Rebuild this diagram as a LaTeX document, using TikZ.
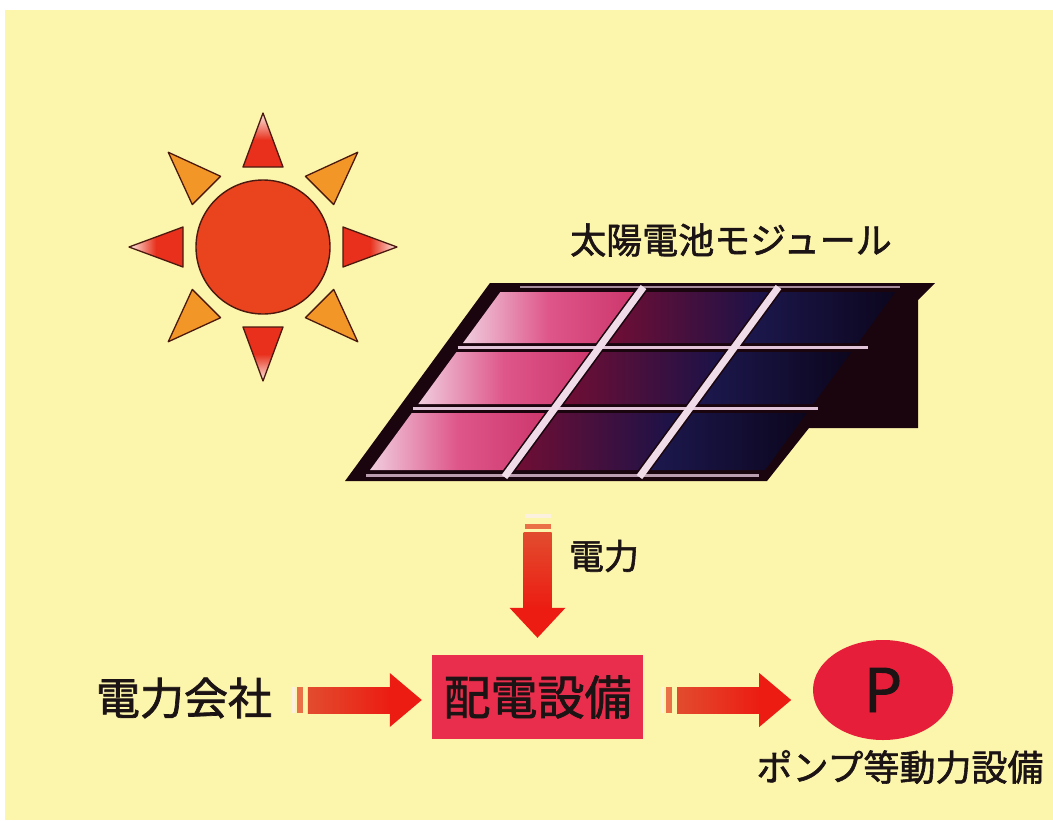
\documentclass[tikz,border=0pt]{standalone}
\usepackage{fontspec}
\setmainfont{Noto Sans CJK JP}
\newfontfamily\heavy{Noto Sans CJK JP}[FakeBold=1.6]
\usetikzlibrary{calc,shapes.geometric}

\definecolor{paper}{RGB}{252,245,172}
\definecolor{ink}{RGB}{28,20,20}
\definecolor{sunfill}{RGB}{233,68,30}
\definecolor{sunline}{RGB}{75,25,15}
\definecolor{rayorange}{RGB}{243,150,40}
\definecolor{rayred}{RGB}{232,48,28}
\definecolor{raytip}{RGB}{252,238,230}
\definecolor{panelframe}{RGB}{26,5,14}
\definecolor{gridlight}{RGB}{226,196,216}
\definecolor{gridwhite}{RGB}{240,220,232}
\definecolor{pinkA}{RGB}{240,205,222}
\definecolor{pinkB}{RGB}{222,86,138}
\definecolor{pinkC}{RGB}{205,55,108}
\definecolor{plumA}{RGB}{112,14,52}
\definecolor{plumB}{RGB}{24,18,72}
\definecolor{navyA}{RGB}{28,24,78}
\definecolor{navyB}{RGB}{12,6,30}
\definecolor{boxred}{RGB}{232,46,76}
\definecolor{pumpred}{RGB}{230,30,58}
\definecolor{shaftA}{RGB}{226,76,46}
\definecolor{shaftB}{RGB}{236,28,18}
\definecolor{stubcol}{RGB}{234,112,72}
\definecolor{stripcol}{RGB}{252,240,222}

% x position on a slanted panel edge: base x at y=481, shifted with height
\newcommand\slx[2]{{#1+(481-#2)*0.732}}
% one solar cell: left/right base x, top y, bottom y, shading style
\newcommand\pvcell[5]{%
  \shade[#5] (\slx{#1}{#4},#4) -- (\slx{#2}{#4},#4) -- (\slx{#2}{#3},#3) -- (\slx{#1}{#3},#3) -- cycle;}
% horizontal block arrow starting at a named tail coordinate
\newcommand\hflow[1]{%
  \fill[stripcol] ($(#1)+(0,-13)$) rectangle ($(#1)+(3,13)$);
  \fill[stubcol] ($(#1)+(5,-13)$) rectangle ($(#1)+(11,13)$);
  \shade[left color=shaftA,right color=shaftB] ($(#1)+(16,-13)$) rectangle ($(#1)+(99,13)$);
  \fill[shaftB] ($(#1)+(98,-27)$) -- ($(#1)+(130,0)$) -- ($(#1)+(98,27)$) -- cycle;}
% vertical block arrow pointing down from a named tail coordinate
\newcommand\vflow[1]{%
  \fill[stripcol] ($(#1)+(-13,0)$) rectangle ($(#1)+(13,4)$);
  \fill[stubcol] ($(#1)+(-13,10)$) rectangle ($(#1)+(13,15)$);
  \shade[top color=shaftA,bottom color=shaftB] ($(#1)+(-14,19)$) rectangle ($(#1)+(14,95)$);
  \fill[shaftB] ($(#1)+(-28,94)$) -- ($(#1)+(0,124)$) -- ($(#1)+(28,94)$) -- cycle;}

\begin{document}
\begin{tikzpicture}[x=1pt,y=-1pt,
  txt/.style={text=ink,inner sep=0pt},
  ray/.style={draw=sunline,line width=1.3pt,line join=round},
  rowgap/.style={draw=gridlight,line width=3.5pt},
  colgap/.style={draw=gridwhite,line width=7pt}]
\useasboundingbox (0,0) rectangle (1053,820);
\fill[white] (0,0) rectangle (1053,820);
\fill[paper] (5,10) rectangle (1053,820);

% ---- sun ----
\coordinate (sun) at (263,247);
\foreach \a in {45,135,225,315}
  \filldraw[ray,fill=rayorange] ($(sun)+(\a:80)+(\a+90:20)$) -- ($(sun)+(\a:134)$) -- ($(sun)+(\a:80)+(\a-90:20)$) -- cycle;
\foreach \a in {0,90,180,270}{
  \pgfmathsetmacro\sh{270-\a}
  \shadedraw[ray,top color=raytip,bottom color=rayred,middle color=rayred,shading angle=\sh]
    ($(sun)+(\a:80)+(\a+90:20)$) -- ($(sun)+(\a:134)$) -- ($(sun)+(\a:80)+(\a-90:20)$) -- cycle;}
\node[circle,draw=sunline,line width=1.4pt,fill=sunfill,minimum size=134pt,inner sep=0pt] (sunball) at (sun) {};

% ---- solar module ----
\fill[panelframe] (\slx{345}{283},283) -- (935,283) -- (918,300) -- (918,428) -- (809,428) -- (767,481) -- (345,481) -- cycle;
\draw[gridlight,line width=2.5pt,opacity=.7] (520,287) -- (900,287);
\draw[rowgap] (\slx{360}{347.5},347.5) -- (\slx{770}{347.5},347.5);
\draw[rowgap] (\slx{360}{408.5},408.5) -- (\slx{765}{408.5},408.5);
\draw[gridlight,line width=3pt,opacity=.8] (\slx{362}{475},475) -- (\slx{755}{475},475);
\draw[colgap] (\slx{501.5}{477},477) -- (\slx{501.5}{287},287);
\draw[colgap] (\slx{636.5}{477},477) -- (\slx{636.5}{287},287);
\foreach \yt/\yb in {292/343,352/404,413/470}{
  \pvcell{362}{495}{\yt}{\yb}{left color=pinkA,right color=pinkC,middle color=pinkB}
  \pvcell{508}{630}{\yt}{\yb}{left color=plumA,right color=plumB}
  \pvcell{643}{757}{\yt}{\yb}{left color=navyA,right color=navyB}
}
\node[txt,font=\heavy\fontsize{36}{40}\selectfont] (modlabel) at (731,240) {太陽電池モジュール};

% ---- power flow ----
\node[fill=boxred,minimum width=211pt,minimum height=84pt,inner sep=0pt,text=ink,
      font=\heavy\fontsize{47}{50}\selectfont] (dist) at (537.5,697) {配電設備};
\node[txt,font=\heavy\fontsize{44}{48}\selectfont] (utility) at (184,698) {電力会社};
\node[ellipse,fill=pumpred,minimum width=140pt,minimum height=100pt,inner sep=0pt,text=ink,
      font=\heavy\fontsize{60}{60}\selectfont] (pump) at (883,690) {P};
\node[txt,font=\heavy\fontsize{36}{40}\selectfont] (pumplabel) at (900,767) {ポンプ等動力設備};
\node[txt,font=\heavy\fontsize{35}{40}\selectfont] (powerlabel) at (604,556) {電力};

\coordinate (fromsolar) at ($(dist.north)+(0,-141)$);
\coordinate (fromgrid) at ($(dist.west)+(-140,3)$);
\coordinate (topump) at ($(dist.east)+(18,3)$);
\vflow{fromsolar}
\hflow{fromgrid}
\hflow{topump}
\end{tikzpicture}
\end{document}
